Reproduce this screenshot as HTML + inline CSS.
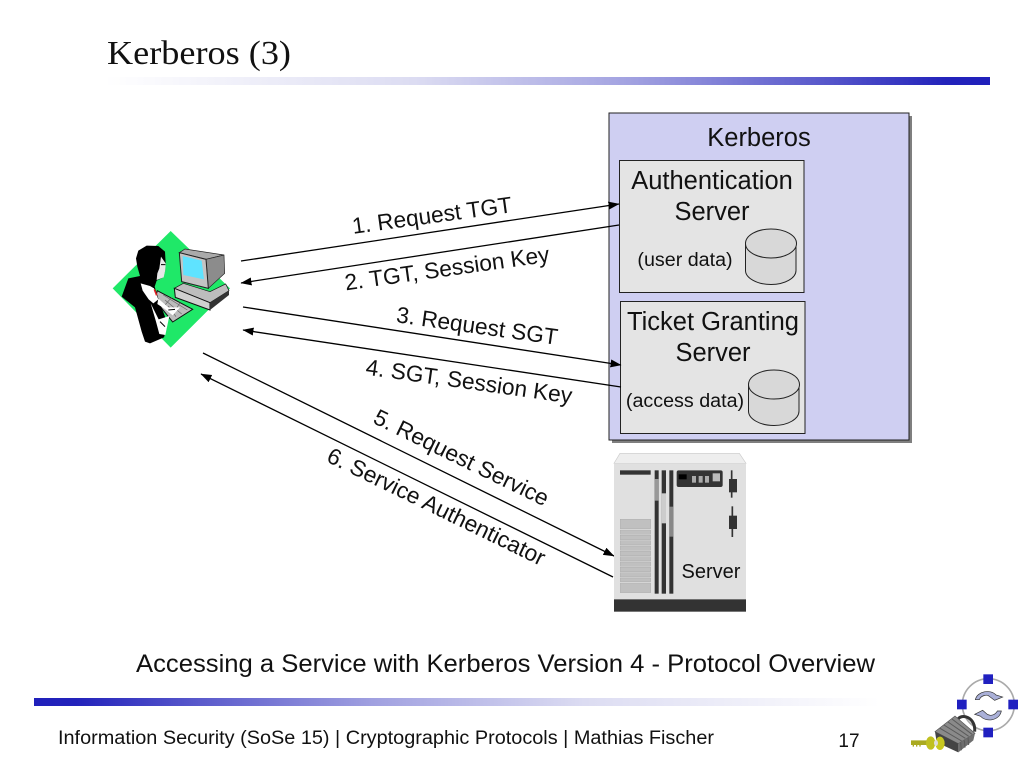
<!DOCTYPE html>
<html><head><meta charset="utf-8"><title>Kerberos (3)</title>
<style>html,body{margin:0;padding:0;background:#fff;overflow:hidden}svg{display:block}text{font-family:"Liberation Sans",sans-serif;fill:#111}</style></head>
<body>
<svg width="1024" height="768" viewBox="0 0 1024 768" xmlns="http://www.w3.org/2000/svg">
<defs>
<linearGradient id="g1" x1="0" x2="1" y1="0" y2="0"><stop offset="0" stop-color="#fff"/><stop offset=".35" stop-color="#dcdcf2"/><stop offset=".6" stop-color="#a0a0e0"/><stop offset=".8" stop-color="#5c5ccc"/><stop offset=".95" stop-color="#2323bb"/><stop offset="1" stop-color="#2020bb"/></linearGradient>
<linearGradient id="g2" x1="0" x2="1" y1="0" y2="0"><stop offset="0" stop-color="#2020bb"/><stop offset=".05" stop-color="#2323bb"/><stop offset=".2" stop-color="#5c5ccc"/><stop offset=".4" stop-color="#a0a0e0"/><stop offset=".65" stop-color="#dcdcf2"/><stop offset="1" stop-color="#fff"/></linearGradient>
<marker id="ah" markerUnits="userSpaceOnUse" markerWidth="12" markerHeight="10" refX="10.500" refY="4" orient="auto"><path d="M0 0L11 4L0 8Z" fill="#000"/></marker>
</defs>

<text x="107" y="64" textLength="184" lengthAdjust="spacingAndGlyphs" style="font-family:'Liberation Serif',serif;font-size:34px">Kerberos (3)</text>
<rect x="105" y="77" width="885" height="8" fill="url(#g1)"/>

<!-- Kerberos box -->
<rect x="612" y="116" width="300" height="327" fill="#7f7f7f"/>
<rect x="609" y="113" width="300" height="327" fill="#cfcff2" stroke="#222" stroke-width="1"/>
<text x="759" y="146" text-anchor="middle" font-size="25.500">Kerberos</text>
<rect x="619.500" y="160.500" width="184.500" height="132" fill="#e4e4e4" stroke="#222"/>
<text x="712" y="189" text-anchor="middle" font-size="25.500">Authentication</text>
<text x="712" y="220" text-anchor="middle" font-size="25.500">Server</text>
<text x="685" y="266" text-anchor="middle" font-size="19.700">(user data)</text>
<g fill="#d8d8d8" stroke="#222" stroke-width="1">
<path d="M745.500 243V270.500C745.500 278 757 284.500 771 284.500S796 278 796 270.500V243Z"/><ellipse cx="771" cy="243.500" rx="25.500" ry="14.500"/>
</g>
<rect x="620.500" y="301.500" width="184.500" height="132" fill="#e4e4e4" stroke="#222"/>
<text x="713" y="330" text-anchor="middle" font-size="25.500">Ticket Granting</text>
<text x="713" y="361" text-anchor="middle" font-size="25.500">Server</text>
<text x="685" y="407" text-anchor="middle" font-size="19.700">(access data)</text>
<g fill="#d8d8d8" stroke="#222" stroke-width="1">
<path d="M748.500 384V411C748.500 419 760 425.500 774 425.500S799 419 799 411V384Z"/><ellipse cx="774" cy="384.500" rx="25.500" ry="14.500"/>
</g>

<!-- Connectors -->
<g stroke="#000" stroke-width="1.300" fill="none">
<line x1="241" y1="261" x2="619" y2="204" marker-end="url(#ah)"/>
<line x1="619" y1="225" x2="241" y2="283" marker-end="url(#ah)"/>
<line x1="243" y1="307" x2="621" y2="365" marker-end="url(#ah)"/>
<line x1="621" y1="387" x2="243" y2="330" marker-end="url(#ah)"/>
<line x1="203" y1="353" x2="614" y2="556" marker-end="url(#ah)"/>
<line x1="613" y1="577" x2="201" y2="374" marker-end="url(#ah)"/>
</g>
<g font-size="22.700" text-anchor="middle">
<text transform="translate(433,223) rotate(-7.800)">1. Request TGT</text>
<text transform="translate(448,276) rotate(-8)">2. TGT, Session Key</text>
<text transform="translate(476,333.500) rotate(8)">3. Request SGT</text>
<text transform="translate(468,389) rotate(8)">4. SGT, Session Key</text>
<text transform="translate(458,464.500) rotate(26)">5. Request Service</text>
<text transform="translate(433,513.500) rotate(26)">6. Service Authenticator</text>
</g>

<!-- Person at computer -->
<g transform="translate(100,220) scale(.33333)">
<path d="M212 33L390 205L212 383L38 205Z" fill="#1fe868"/>
<!-- monitor -->
<path d="M238 98L255 87L372 105L318 118Z" fill="#aaa" stroke="#222" stroke-width="2"/>
<path d="M318 118L372 105L374 160L325 205Z" fill="#8c8c8c" stroke="#222" stroke-width="2"/>
<path d="M238 98L318 118L325 205L245 185Z" fill="#c4c4c4" stroke="#222" stroke-width="3"/>
<path d="M248 108L305 122L312 178L250 165Z" fill="#5fe3ff"/>
<!-- base -->
<path d="M223 205L250 190L330 215L377 192L387 212L330 248Z" fill="#bdbdbd" stroke="#111" stroke-width="2"/>
<path d="M223 205L330 248L330 270L226 232Z" fill="#d0d0d0" stroke="#111" stroke-width="3"/>
<path d="M330 248L387 212L387 225L330 270Z" fill="#333"/>
<!-- keyboard -->
<path d="M172 212L278 268L218 306L165 240Z" fill="#bcbcbc" stroke="#111" stroke-width="3"/>
<path d="M190 225L262 270M195 240L245 282M205 258L228 290M215 232L195 255M240 248L220 280" stroke="#666" stroke-width="2" fill="none"/>
<!-- body -->
<path d="M108 115L115 92L140 77L175 78L195 95L197 130L196 150L190 172L170 182L164 200L178 245L195 290L200 325L192 352L150 370L135 365L125 335L105 262L65 230L85 175L120 168L112 140Z" fill="#000"/>
<path d="M183 110L197 130L196 150L191 172L170 180L172 160L178 145Z" fill="#e8e8e8"/>
<path d="M183 134L196 134M178 112L170 150" stroke="#000" stroke-width="3" fill="none"/>
<path d="M122 190L150 198L162 205L175 238L160 250L146 238L128 212Z" fill="#fff"/>
<path d="M175 236L205 262L240 262L218 286L196 268L172 252Z" fill="#fff"/>
<path d="M152 250L176 298L208 288L196 345L178 342L168 305Z" fill="#fff"/>
<path d="M205 270L225 268M180 305L195 320" stroke="#000" stroke-width="3" fill="none"/>
<path d="M163 208L170 226" stroke="#d22" stroke-width="5"/>
</g>

<!-- Server -->
<g transform="translate(600,445) scale(.33333)">
<path d="M42 55L60 25H418L438 55Z" fill="#eee" stroke="#ccc" stroke-width="2"/>
<rect x="42" y="55" width="396" height="408" fill="#e0e0e0"/>
<rect x="42" y="463" width="396" height="37" fill="#333"/>
<rect x="60" y="76" width="92" height="13" fill="#333"/>
<rect x="164" y="76" width="12" height="370" fill="#333"/>
<rect x="185" y="76" width="13" height="370" fill="#333"/>
<rect x="208" y="76" width="12" height="370" fill="#333"/>
<rect x="164" y="102" width="12" height="65" fill="#999"/>
<rect x="185" y="145" width="13" height="90" fill="#ccc"/>
<rect x="208" y="185" width="12" height="90" fill="#888"/>
<rect x="230" y="76" width="138" height="50" rx="6" fill="#333"/>
<rect x="236" y="88" width="24" height="15" fill="#000"/>
<rect x="276" y="93" width="12" height="20" fill="#aaa"/>
<rect x="296" y="93" width="12" height="20" fill="#aaa"/>
<rect x="315" y="93" width="12" height="20" fill="#aaa"/>
<rect x="338" y="85" width="22" height="24" fill="#bbb"/>
<path d="M395 76V158" stroke="#333" stroke-width="5"/><rect x="387" y="102" width="24" height="40" fill="#333"/>
<path d="M397 184V276" stroke="#333" stroke-width="5"/><rect x="387" y="212" width="24" height="40" fill="#333"/>
<g fill="#c0c0c0" stroke="#a0a0a0">
<rect x="61" y="223" width="91" height="28"/>
<rect x="61" y="255" width="91" height="13"/><rect x="61" y="271" width="91" height="13"/><rect x="61" y="287" width="91" height="13"/><rect x="61" y="303" width="91" height="13"/><rect x="61" y="319" width="91" height="13"/><rect x="61" y="335" width="91" height="13"/><rect x="61" y="351" width="91" height="13"/><rect x="61" y="367" width="91" height="13"/><rect x="61" y="383" width="91" height="13"/><rect x="61" y="399" width="91" height="11"/>
<rect x="61" y="414" width="91" height="29"/>
</g>
</g>
<text x="711" y="578" text-anchor="middle" font-size="20">Server</text>

<text x="505.500" y="672" text-anchor="middle" font-size="25" textLength="739" lengthAdjust="spacingAndGlyphs">Accessing a Service with Kerberos Version 4 - Protocol Overview</text>

<rect x="34" y="698" width="846" height="8" fill="url(#g2)"/>
<text x="58" y="744" font-size="19" textLength="656" lengthAdjust="spacingAndGlyphs">Information Security (SoSe 15) | Cryptographic Protocols | Mathias Fischer</text>
<text x="849" y="747" text-anchor="middle" font-size="19">17</text>

<!-- Logo -->
<g transform="translate(900,665) scale(.33333)">
<circle cx="265" cy="119" r="78" fill="#fff" stroke="#aaa" stroke-width="5"/>
<rect x="250" y="28" width="29" height="29" fill="#2020c0"/>
<rect x="250" y="188" width="29" height="29" fill="#2020c0"/>
<rect x="171" y="104" width="29" height="29" fill="#2020c0"/>
<rect x="325" y="104" width="29" height="29" fill="#2020c0"/>
<path d="M226 104C232 78 272 72 288 90L308 96L284 106L268 94C262 88 244 90 238 104Z" fill="#aab0d8" stroke="#333" stroke-width="2"/>
<path d="M304 138C298 168 258 172 242 154L224 148L248 136L262 148C272 154 286 150 292 138Z" fill="#aab0d8" stroke="#333" stroke-width="2"/>
<path d="M172 165C185 142 228 158 224 200" fill="none" stroke="#333" stroke-width="9"/>
<path d="M105 200L165 153L225 205L175 236Z" fill="#8a8a8a" stroke="#555" stroke-width="2"/>
<path d="M175 236L225 205L220 226L175 262Z" fill="#6e6e6e"/>
<path d="M105 200L175 236L175 262L110 232Z" fill="#444"/>
<path d="M120 190L185 228M132 180L196 220M144 171L206 214M156 162L216 208M182 232L184 256M193 226L195 248M204 218L206 240" stroke="#5a5a5a" stroke-width="3" fill="none"/>
<path d="M33 226H90V240H33Z" fill="#aaaa20"/>
<path d="M40 240V245M50 240V245M60 240V245" stroke="#aaaa20" stroke-width="4"/>
<ellipse cx="92" cy="234" rx="14" ry="20" fill="#c0c020"/><ellipse cx="120" cy="235" rx="14" ry="20" fill="#c8c820"/>
<ellipse cx="108" cy="234" rx="6" ry="9" fill="#ddd"/>
</g>
</svg>
</body></html>
